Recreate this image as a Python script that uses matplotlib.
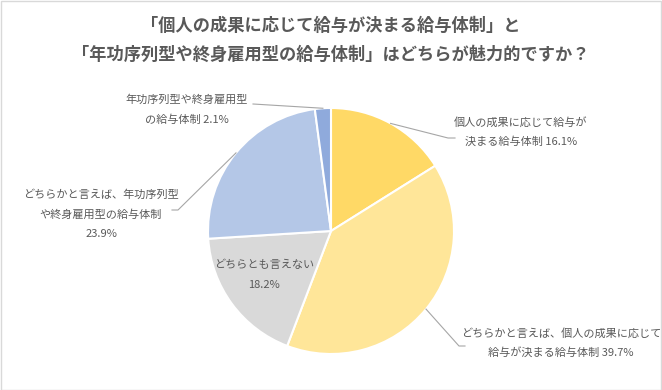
import numpy as np
import matplotlib
matplotlib.use("Agg")
import matplotlib.pyplot as plt
from matplotlib.lines import Line2D
from matplotlib.patches import Rectangle

plt.rcParams['font.family'] = ['Noto Sans CJK JP', 'DejaVu Sans']

# ---- data ----
title_lines = ["「個人の成果に応じて給与が決まる給与体制」と",
               "「年功序列型や終身雇用型の給与体制」はどちらが魅力的ですか？"]
categories = ["個人の成果に応じて給与が\n決まる給与体制",
              "どちらかと言えば、個人の成果に応じて\n給与が決まる給与体制",
              "どちらとも言えない\n",
              "どちらかと言えば、年功序列型\nや終身雇用型の給与体制\n",
              "年功序列型や終身雇用型\nの給与体制"]
values = [16.1, 39.7, 18.2, 23.9, 2.1]
colors = ["#FFD966", "#FFE699", "#D9D9D9", "#B4C7E7", "#8FAADC"]

W, H = 662, 390
fig = plt.figure(figsize=(W / 100, H / 100), dpi=100)
fig.patch.set_facecolor("white")

def fx(px):
    return px / W

def fy(py):
    return 1 - py / H

# border
fig.patches.append(Rectangle((0.5 / W, 0.5 / H), 1 - 1.5 / W, 1 - 1.5 / H,
                             transform=fig.transFigure, fill=False,
                             edgecolor="#D9D9D9", linewidth=1.0))

# title
title_y = [26, 55]
for t, y in zip(title_lines, title_y):
    fig.text(fx(331), fy(y), t, ha="center", va="center", fontsize=12.4,
             fontweight="bold", color="#595959")

# pie
cx, cy, r = 331, 231, 123
ax = fig.add_axes([fx(cx - r), fy(cy + r), 2 * r / W, 2 * r / H])
wedges, _ = ax.pie(values, colors=colors, startangle=90, counterclock=False,
                   wedgeprops=dict(edgecolor="white", linewidth=1.5))
ax.set_xlim(-1, 1)
ax.set_ylim(-1, 1)
ax.axis("off")

# label layout (pixel positions)
label_pos = [(521, 122), (561, 333), (264, 265), (101, 195), (187, 100)]
leader_pts = [[(448, 138), (455, 138)],
              [(459, 346), (465, 346)],
              None,
              [(178, 210), (172, 210)],
              [(253, 104)]]
line_gap = 19.5

for w, cat, v, (lx, ly), lead in zip(wedges, categories, values, label_pos, leader_pts):
    lines = cat.split("\n")
    pct = f"{v:.1f}%"
    if lines[-1] == "":
        lines[-1] = pct
    else:
        lines[-1] = lines[-1] + " " + pct
    for i, ln in enumerate(lines):
        fig.text(fx(lx), fy(ly + i * line_gap), ln, ha="center", va="center",
                 fontsize=8, color="#595959")
    if lead is not None:
        mid = np.deg2rad((w.theta1 + w.theta2) / 2)
        ex, ey = ax.transData.transform((np.cos(mid), np.sin(mid)))
        xs = [ex / fig.dpi / fig.get_figwidth()] + [fx(p[0]) for p in lead]
        ys = [ey / fig.dpi / fig.get_figheight()] + [fy(p[1]) for p in lead]
        fig.lines.append(Line2D(xs, ys, transform=fig.transFigure,
                                color="#A6A6A6", linewidth=0.8))

fig.savefig("out.png", dpi=100)
